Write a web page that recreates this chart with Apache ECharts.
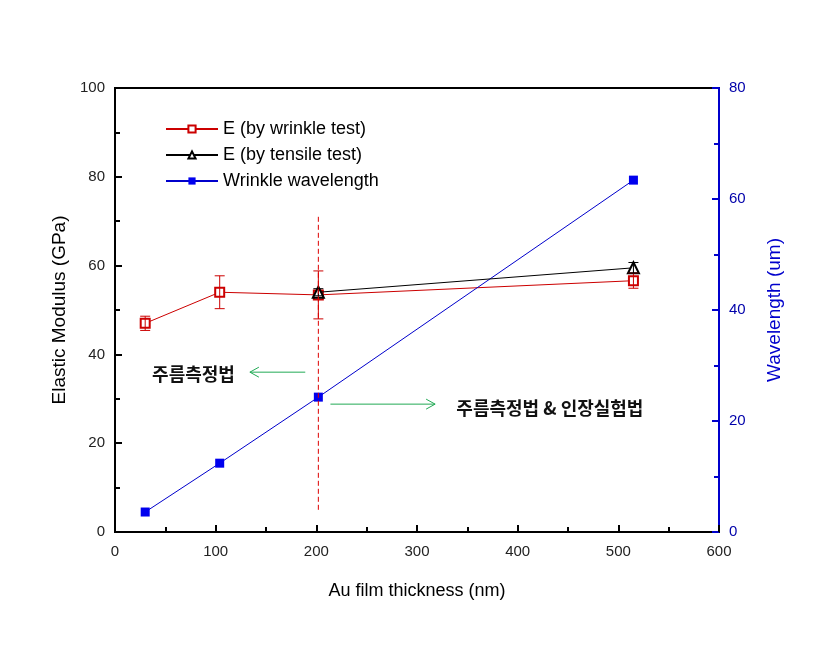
<!DOCTYPE html>
<html>
<head>
<meta charset="utf-8">
<script src="https://cdn.jsdelivr.net/npm/echarts@6/dist/echarts.min.js"></script>
<style>html,body{margin:0;padding:0;background:#fff}#c{width:833px;height:649px}</style>
</head>
<body>
<div id="c"></div>
<script>
// thickness (nm)
const wrinkleX = [30, 104, 202, 515];
const wrinkleE = [47, 54, 53.4, 56.6];
const wrinkleErr = [1.6, 3.7, 5.4, 1.7];
const tensileX = [202, 515];
const tensileE = [54, 59.5];
const tensileErr = [0.8, 1.2];
const waveX = [30, 104, 202, 515];
const waveL = [3.6, 12.4, 24.3, 63.4];
const leftTicks = [0, 20, 40, 60, 80, 100];
const rightTicks = [0, 20, 40, 60, 80];
const xTicks = [0, 100, 200, 300, 400, 500, 600];
// annotations (data units)
const dashLine = {x: 202, y0: 5, y1: 71.5};
const arrows = [
  {from: [189, 36], to: [134, 36]},
  {from: [214, 28.8], to: [318, 28.8]}
];
const notes = [
  {x: 78, y: 35.6, text: '주름측정법'},
  {x: 432, y: 27.9, text: '주름측정법 & 인장실험법'}
];

const chart = echarts.init(document.getElementById('c'), null, {renderer: 'canvas'});
const font = '"Liberation Sans", Arial, sans-serif';
const errData = [];
wrinkleX.forEach((x, i) => errData.push([x, wrinkleE[i] - wrinkleErr[i], wrinkleE[i] + wrinkleErr[i], '#cc0000']));
tensileX.forEach((x, i) => errData.push([x, tensileE[i] - tensileErr[i], tensileE[i] + tensileErr[i], '#000000']));

chart.setOption({
  animation: false,
  backgroundColor: '#fff',
  grid: {left: 115, right: 114, top: 88, bottom: 117, show: true, borderColor: '#000', borderWidth: 2},
  legend: {
    orient: 'vertical', left: 160, top: 115,
    data: ['E (by wrinkle test)', 'E (by tensile test)', 'Wrinkle wavelength'],
    itemWidth: 52, itemHeight: 9, itemGap: 8,
    textStyle: {fontFamily: font, fontSize: 18, color: '#000'}
  },
  xAxis: {
    type: 'value', min: 0, max: 600, interval: 100,
    name: 'Au film thickness (nm)', nameLocation: 'middle', nameGap: 50,
    nameTextStyle: {fontFamily: font, fontSize: 18, color: '#000'},
    axisLine: {lineStyle: {color: '#000', width: 2}},
    axisTick: {inside: true, length: 7, lineStyle: {color: '#000', width: 2}},
    minorTick: {show: true, splitNumber: 2, length: 5, lineStyle: {color: '#000', width: 2}},
    splitLine: {show: false},
    axisLabel: {fontFamily: font, fontSize: 15, color: '#222', margin: 12}
  },
  yAxis: [{
    type: 'value', min: 0, max: 100, interval: 20, position: 'left',
    name: 'Elastic Modulus (GPa)', nameLocation: 'middle', nameGap: 44, nameRotate: 90,
    nameTextStyle: {fontFamily: font, fontSize: 19, color: '#000'},
    axisLine: {show: true, lineStyle: {color: '#000', width: 2}},
    axisTick: {inside: true, length: 7, lineStyle: {color: '#000', width: 2}},
    minorTick: {show: true, splitNumber: 2, length: 5, lineStyle: {color: '#000', width: 2}},
    splitLine: {show: false},
    axisLabel: {fontFamily: font, fontSize: 15, color: '#222', margin: 10}
  }, {
    type: 'value', min: 0, max: 80, interval: 20, position: 'right',
    name: 'Wavelength (um)', nameLocation: 'middle', nameGap: 46, nameRotate: 90,
    nameTextStyle: {fontFamily: font, fontSize: 19, color: '#0000cc', verticalAlign: 'top'},
    axisLine: {show: true, lineStyle: {color: '#0000cc', width: 2}},
    axisTick: {inside: true, length: 7, lineStyle: {color: '#0000cc', width: 2}},
    minorTick: {show: true, splitNumber: 2, length: 5, lineStyle: {color: '#0000cc', width: 2}},
    splitLine: {show: false},
    axisLabel: {fontFamily: font, fontSize: 15, color: '#0000aa', margin: 10}
  }],
  series: [
    {
      name: 'E (by wrinkle test)', type: 'line', yAxisIndex: 0,
      data: wrinkleX.map((x, i) => [x, wrinkleE[i]]),
      symbol: 'emptyRect', symbolSize: 9, lineStyle: {color: '#cc0000', width: 1},
      itemStyle: {color: '#cc0000', borderColor: '#cc0000', borderWidth: 1}, z: 3
    },
    {
      name: 'E (by tensile test)', type: 'line', yAxisIndex: 0,
      data: tensileX.map((x, i) => [x, tensileE[i]]),
      symbol: 'emptyTriangle', symbolSize: 11, lineStyle: {color: '#000', width: 1},
      itemStyle: {color: '#000', borderColor: '#000', borderWidth: 1}, z: 4
    },
    {
      name: 'Wrinkle wavelength', type: 'line', yAxisIndex: 1,
      data: waveX.map((x, i) => [x, waveL[i]]),
      symbol: 'rect', symbolSize: 9, lineStyle: {color: '#0000cc', width: 1},
      itemStyle: {color: '#0000ee'}, z: 3
    },
    {
      type: 'custom', yAxisIndex: 0, data: errData, z: 5, silent: true,
      renderItem: function (params, api) {
        const x = api.value(0);
        const lo = api.coord([x, api.value(1)]);
        const hi = api.coord([x, api.value(2)]);
        const c = errData[params.dataIndex][3];
        const w = 5;
        const st = {stroke: c, lineWidth: 1};
        return {type: 'group', children: [
          {type: 'line', shape: {x1: lo[0], y1: lo[1], x2: hi[0], y2: hi[1]}, style: st},
          {type: 'line', shape: {x1: lo[0] - w, y1: lo[1], x2: lo[0] + w, y2: lo[1]}, style: st},
          {type: 'line', shape: {x1: hi[0] - w, y1: hi[1], x2: hi[0] + w, y2: hi[1]}, style: st}
        ]};
      }
    },
    {
      type: 'custom', yAxisIndex: 0, data: [[dashLine.x, dashLine.y0, dashLine.y1]], z: 6, silent: true,
      renderItem: function (params, api) {
        const a = api.coord([api.value(0), api.value(1)]);
        const b = api.coord([api.value(0), api.value(2)]);
        return {type: 'line', shape: {x1: a[0], y1: a[1], x2: b[0], y2: b[1]},
          style: {stroke: '#dd0000', lineWidth: 1, lineDash: [5, 3]}};
      }
    },
    {
      type: 'custom', yAxisIndex: 0, data: arrows.map(a => [a.from[0], a.from[1], a.to[0], a.to[1]]), z: 6, silent: true,
      renderItem: function (params, api) {
        const a = api.coord([api.value(0), api.value(1)]);
        const b = api.coord([api.value(2), api.value(3)]);
        const dir = b[0] > a[0] ? 1 : -1;
        const st = {stroke: '#22aa55', lineWidth: 1, fill: null};
        return {type: 'group', children: [
          {type: 'line', shape: {x1: a[0], y1: a[1], x2: b[0], y2: b[1]}, style: st},
          {type: 'polyline', shape: {points: [[b[0] - dir * 9, b[1] - 5], [b[0], b[1]], [b[0] - dir * 9, b[1] + 5]]}, style: st}
        ]};
      }
    },
    {
      type: 'custom', yAxisIndex: 0, data: notes.map(n => [n.x, n.y]), z: 6, silent: true,
      renderItem: function (params, api) {
        const p = api.coord([api.value(0), api.value(1)]);
        return {type: 'text', x: p[0], y: p[1], style: {
          text: notes[params.dataIndex].text, align: 'center', verticalAlign: 'middle',
          font: 'bold 18px "Noto Sans CJK KR", sans-serif', fill: '#111'
        }};
      }
    }
  ]
});
</script>
</body>
</html>
